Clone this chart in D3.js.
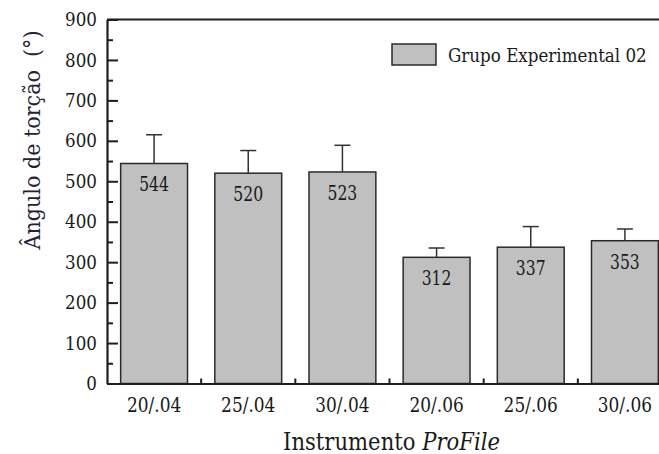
<!DOCTYPE html>
<html>
<head>
<meta charset="utf-8">
<script src="https://cdn.jsdelivr.net/npm/d3@7"></script>
<style>
  html, body { margin: 0; padding: 0; background: #fff; }
  svg { display: block; }
</style>
</head>
<body>
<svg id="chart" width="659" height="454"></svg>
<script>
// Torsion angle per group (mean and upper error)
const categories = ["20/.04", "25/.04", "30/.04", "20/.06", "25/.06", "30/.06"];
const means = [544, 520, 523, 312, 337, 353];
const errors = [71, 56, 66, 23, 51, 29];
const yMajorTicks = [0, 100, 200, 300, 400, 500, 600, 700, 800, 900];
const yMinorTicks = [50, 150, 250, 350, 450, 550, 650, 750, 850];
const seriesName = "Grupo Experimental 02";

const serif = "'DejaVu Serif', serif";
const svg = d3.select("#chart").attr("font-family", serif);
const plotLeft = 107, plotRight = 672, plotTop = 19.5, plotBottom = 383.5;
const ink = "#1e1e1e";
const textInk = "#1a1a1a";

// Narrow the wide serif glyphs to a Times-like width
function condense(sel, factor) {
  sel.each(function () {
    const len = this.getComputedTextLength();
    d3.select(this).attr("textLength", len * factor).attr("lengthAdjust", "spacingAndGlyphs");
  });
}

// Squeeze a text horizontally (in its own frame) to a given total width
function fitWidth(textSel, width) {
  const w = textSel.node().getBBox().width;
  return w > 0 ? width / w : 1;
}

const x = d3.scaleBand().domain(categories).range([plotLeft, plotRight])
  .paddingInner(0.29).paddingOuter(0.145);
const y = d3.scaleLinear().domain([0, 900]).range([plotBottom, plotTop]);

// Bars
const bars = svg.append("g");
categories.forEach((c, i) => {
  bars.append("rect")
    .attr("x", x(c)).attr("y", y(means[i]))
    .attr("width", x.bandwidth()).attr("height", y(0) - y(means[i]))
    .attr("fill", "#c0c0c0").attr("stroke", "#2a2a2a").attr("stroke-width", 1.5);
});

// Upper error whiskers
const err = svg.append("g").attr("stroke", "#333").attr("stroke-width", 1.5);
categories.forEach((c, i) => {
  const cx = x(c) + x.bandwidth() / 2;
  err.append("line").attr("x1", cx).attr("x2", cx)
    .attr("y1", y(means[i])).attr("y2", y(means[i] + errors[i]));
  err.append("line").attr("x1", cx - 8).attr("x2", cx + 8)
    .attr("y1", y(means[i] + errors[i])).attr("y2", y(means[i] + errors[i]));
});

// Value labels inside bars
const valueLabels = svg.append("g").selectAll("text")
  .data(means).join("text")
  .attr("x", (d, i) => x(categories[i]) + x.bandwidth() / 2)
  .attr("y", d => y(d) + 28)
  .attr("text-anchor", "middle").attr("font-size", 20)
  .attr("fill", textInk)
  .text(d => d);
condense(valueLabels, 0.78);

// Frame (top and right)
svg.append("path")
  .attr("d", `M${plotLeft},${plotTop}H${plotRight}V${plotBottom}`)
  .attr("fill", "none").attr("stroke", ink).attr("stroke-width", 2);

// Y axis: major ticks with labels, minor ticks without
const yAxis = svg.append("g").attr("transform", `translate(${plotLeft},0)`)
  .call(d3.axisLeft(y).tickValues(yMajorTicks).tickSizeInner(-11).tickSizeOuter(0).tickPadding(10));
yAxis.attr("font-family", serif).attr("font-size", 19);
yAxis.select(".domain").attr("stroke", ink).attr("stroke-width", 2.2);
yAxis.selectAll(".tick line").attr("stroke", ink).attr("stroke-width", 2);
yAxis.selectAll(".tick text").attr("fill", textInk);
condense(yAxis.selectAll(".tick text"), 0.88);

const yMinor = svg.append("g").attr("transform", `translate(${plotLeft},0)`)
  .call(d3.axisLeft(y).tickValues(yMinorTicks).tickSizeInner(-6).tickSizeOuter(0).tickFormat(""));
yMinor.select(".domain").remove();
yMinor.selectAll(".tick line").attr("stroke", ink).attr("stroke-width", 2);

// X axis with category labels
const xAxis = svg.append("g").attr("transform", `translate(0,${plotBottom})`)
  .call(d3.axisBottom(x).tickSize(0).tickPadding(14.5));
xAxis.attr("font-family", serif).attr("font-size", 19.5);
xAxis.select(".domain").attr("stroke", ink).attr("stroke-width", 2.2);
xAxis.selectAll(".tick text").attr("fill", textInk);
condense(xAxis.selectAll(".tick text"), 0.87);

// Small ticks between neighbouring bars
const gap = x.step() - x.bandwidth();
categories.slice(0, -1).forEach(c => {
  const tx = x(c) + x.bandwidth() + gap / 2;
  svg.append("line").attr("x1", tx).attr("x2", tx)
    .attr("y1", plotBottom).attr("y2", plotBottom - 5)
    .attr("stroke", ink).attr("stroke-width", 2);
});

// Y axis title (rotated)
const yTitleG = svg.append("g");
const yTitle = yTitleG.append("text")
  .attr("text-anchor", "middle").attr("font-size", 23)
  .attr("fill", "#262233").style("white-space", "pre")
  .text("Ângulo de torção  (°)");
yTitleG.attr("transform", `translate(40,140) rotate(-90) scale(${fitWidth(yTitle, 220)},1)`);

// X axis title
const xTitleG = svg.append("g");
const xTitle = xTitleG.append("text")
  .attr("text-anchor", "middle").attr("font-size", 24)
  .attr("fill", textInk);
xTitle.append("tspan").text("Instrumento ");
xTitle.append("tspan").attr("font-style", "italic").text("ProFile");
xTitleG.attr("transform", `translate(${(plotLeft + plotRight) / 2 + 2},450) scale(${fitWidth(xTitle, 217)},1)`);

// Legend
svg.append("rect").attr("x", 392).attr("y", 44).attr("width", 44).attr("height", 21)
  .attr("fill", "#c0c0c0").attr("stroke", "#2a2a2a").attr("stroke-width", 1.5);
const legG = svg.append("g");
const legText = legG.append("text").attr("font-size", 19)
  .attr("fill", textInk).text(seriesName);
legG.attr("transform", `translate(448,62) scale(${fitWidth(legText, 199)},1)`);
</script>
</body>
</html>
